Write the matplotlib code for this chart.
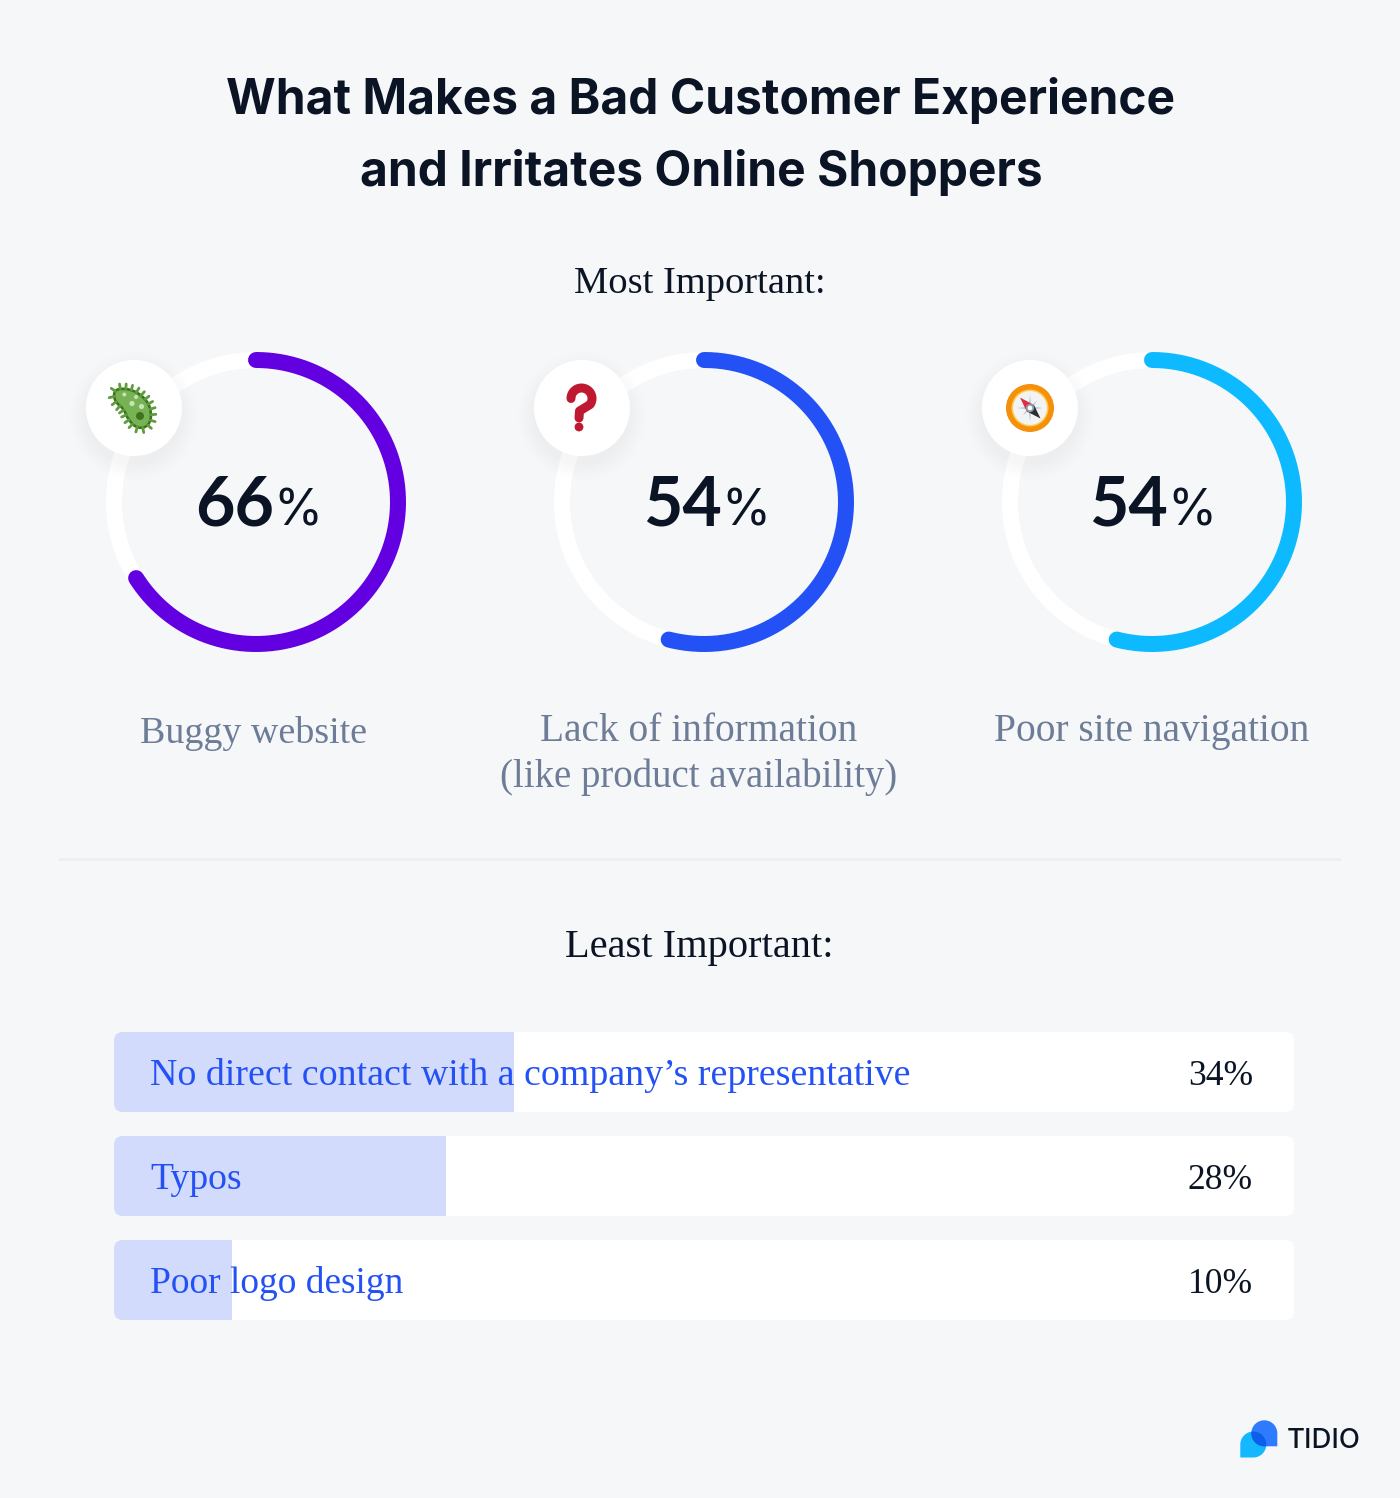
import numpy as np
import matplotlib
matplotlib.use("Agg")
import matplotlib.pyplot as plt
from matplotlib.patches import Circle, FancyBboxPatch, PathPatch, Polygon
from matplotlib.path import Path

# ---------- data ----------
title_lines = ["What Makes a Bad Customer Experience", "and Irritates Online Shoppers"]
most_heading = "Most Important:"
least_heading = "Least Important:"
donut_values = [66, 54, 54]
donut_labels = [["Buggy website"], ["Lack of information", "(like product availability)"], ["Poor site navigation"]]
bar_labels = ["No direct contact with a company\u2019s representative", "Typos", "Poor logo design"]
bar_values = [34, 28, 10]
bar_lengths = [33.9, 28.1, 10]

# ---------- style ----------
W, H = 1400, 1498
BG = "#F6F7F9"; INK = "#0B1424"; GREY = "#6D7C97"; BLUE = "#2351F5"; BARFILL = "#D2DBFC"
donut_colors = ["#6200E2", "#2351F5", "#0DB9FF"]
donut_cx = [256, 704, 1152]
donut_label_cx = [254, 699, 1152]
donut_label_y = [743, 741, 741]
donut_label_sizes = [[27.4], [28.4, 28.0], [28.4]]
bar_label_sizes = [27.3, 27.2, 26.9]
badge_cx = [134, 582, 1030]
SANS = "Inter"; SERIF = "Liberation Serif"
px = 72 / 100

fig = plt.figure(figsize=(W / 100, H / 100), dpi=100, facecolor=BG)
ax = fig.add_axes([0, 0, 1, 1], zorder=1)
ax.set_xlim(0, W); ax.set_ylim(H, 0); ax.axis("off")

for s, y in zip(title_lines, [114, 186]):
    ax.text(701, y, s, ha="center", va="baseline", family=SANS, weight="bold", fontsize=34.5, color=INK)
ax.text(700, 293, most_heading, ha="center", va="baseline", family=SERIF, fontsize=27.7, color=INK)
ax.text(699, 957, least_heading, ha="center", va="baseline", family=SERIF, fontsize=29.2, color=INK)
ax.plot([58, 1341], [858.5, 858.5], color="#EDEFF2", lw=3 * px, solid_capstyle="butt")

# ---------- donuts ----------
R = 150; CY = 502
for v, c, cx in zip(donut_values, donut_colors, donut_cx):
    pa = fig.add_axes([(cx - R) / W, 1 - (CY + R) / H, 2 * R / W, 2 * R / H], projection="polar", zorder=2)
    pa.set_theta_zero_location("N"); pa.set_theta_direction(-1)
    pa.set_rlim(0, R); pa.axis("off"); pa.patch.set_visible(False)
    t = np.linspace(0, 2 * np.pi, 361)
    pa.plot(t, np.full_like(t, R - 8), color="white", lw=16 * px, clip_on=False)
    t = np.linspace(0, 2 * np.pi * v / 100, 300)
    pa.plot(t, np.full_like(t, R - 8), color=c, lw=16 * px, solid_capstyle="round", clip_on=False)

for v, sh in zip(donut_values, [274, 722, 1168]):
    ax.text(sh, 525, str(v), ha="right", va="baseline", family="Lato", weight="bold", fontsize=49, color=INK, zorder=6)
    ax.text(sh - 1, 525, "%", ha="left", va="baseline", family=SANS, fontsize=36, color=INK, zorder=6)

for lines, sizes, cx, y in zip(donut_labels, donut_label_sizes, donut_label_cx, donut_label_y):
    for i, (line, fs) in enumerate(zip(lines, sizes)):
        ax.text(cx, y + 46 * i, line, ha="center", va="baseline", family=SERIF, fontsize=fs, color=GREY)

# ---------- bars ----------
TOP, BOT, L, Rt = 1032, 1320, 114, 1294
ba = fig.add_axes([L / W, 1 - BOT / H, (Rt - L) / W, (BOT - TOP) / H], zorder=2)
pitch = 104; bh = 80 / pitch
ba.set_xlim(0, 100); ba.set_ylim(2 + bh / 2, -bh / 2); ba.axis("off")
ys = np.arange(len(bar_values))
tracks = ba.barh(ys, [100] * len(ys), height=bh, color="white", linewidth=0)
fills = ba.barh(ys, bar_lengths, height=bh, color=BARFILL, linewidth=0)
for i, (tr, fl) in enumerate(zip(tracks, fills)):
    top = TOP + i * pitch
    clip = FancyBboxPatch((L, top), Rt - L, 80, boxstyle="round,pad=0,rounding_size=9",
                          transform=ax.transData, fc="none", ec="none")
    ax.add_patch(clip)
    tr.set_clip_path(clip); fl.set_clip_path(clip)
for y, s, v, fs in zip(ys, bar_labels, bar_values, bar_label_sizes):
    ba.text(36 / 11.8, y + 13 / pitch, s, ha="left", va="baseline", family=SERIF, fontsize=fs, color=BLUE)
    ba.text((1253 - L) / 11.8, y + 13 / pitch, f"{v}%", ha="right", va="baseline", family=SERIF, fontsize=25.6, color=INK)

# ---------- overlay: badges, icons, logo ----------
ov = fig.add_axes([0, 0, 1, 1], zorder=5)
ov.set_xlim(0, W); ov.set_ylim(H, 0); ov.axis("off"); ov.patch.set_visible(False)
BY = 408
for bx in badge_cx:
    for r in np.arange(64, 47, -2):
        ov.add_patch(Circle((bx, BY + 8), r, fc="#4A5A85", ec="none", alpha=0.0035))
    ov.add_patch(Circle((bx, BY), 48, fc="white", ec="none"))

def smooth_closed(pts):
    pts = np.asarray(pts, float)
    mids = (pts + np.roll(pts, -1, axis=0)) / 2
    verts = [mids[-1]]; codes = [Path.MOVETO]
    for p, m in zip(pts, mids):
        verts += [p, m]; codes += [Path.CURVE3, Path.CURVE3]
    return Path(verts, codes)

# bug
body = [(113, 394), (118, 388), (134, 390), (147, 400), (152, 413), (149, 426),
        (138, 429), (128, 420), (124, 409), (116, 403)]
bp = smooth_closed(body)
outline = bp.to_polygons(closed_only=False)[0]
seg = np.diff(outline, axis=0); sl = np.hypot(*seg.T); cum = np.r_[0, np.cumsum(sl)]
centre = np.array([133, 408])
for d in np.arange(2, cum[-1], 5.6):
    i = np.searchsorted(cum, d) - 1
    p = outline[i] + seg[i] * (d - cum[i]) / max(sl[i], 1e-6)
    n = np.array([seg[i][1], -seg[i][0]]) / max(sl[i], 1e-6)
    if np.dot(n, p - centre) < 0:
        n = -n
    q = p + n * 5
    ov.plot([p[0], q[0]], [p[1], q[1]], color="#5C9E3C", lw=2.8 * px, solid_capstyle="round")
ov.add_patch(PathPatch(bp, fc="#77B255", ec="#3E721D", lw=2.6 * px))
for (x, y, r) in [(124.3, 394.5, 2), (136, 397, 2), (132, 403.5, 2.6), (141.5, 406.5, 2.6)]:
    ov.add_patch(Circle((x, y), r, fc="#C6E5B3", ec="none"))
ov.add_patch(Circle((140, 416), 4, fc="#3E721D", ec="none"))

# question mark
ang = np.radians(np.linspace(180, -35, 40))
qx = list(581.5 + 10.5 * np.cos(ang)) + [579.5, 579]
qy = list(398.5 - 10.5 * np.sin(ang)) + [411, 418]
ov.plot(qx, qy, color="#BE1931", lw=9 * px, solid_capstyle="round", solid_joinstyle="round")
ov.add_patch(Circle((579, 427), 4.4, fc="#BE1931", ec="none"))

# compass
cx0, cy0 = 1030, 408
ov.add_patch(Circle((cx0, cy0), 24, fc="#F4900C", ec="none"))
ov.add_patch(Circle((cx0, cy0), 18.5, fc="#FFCC4D", ec="none"))
ov.add_patch(Circle((cx0, cy0), 17, fc="#F1F3F5", ec="none"))
star = []
for k in range(16):
    a = k * np.pi / 8
    r = 13 if k % 4 == 0 else (10 if k % 2 == 0 else 2.6)
    star.append((cx0 + r * np.cos(a), cy0 + r * np.sin(a)))
ov.add_patch(Polygon(star, fc="#AEBBC6", ec="none"))
ov.add_patch(Polygon([(1020, 397.5), (1033, 404.5), (1026.5, 411)], fc="#DD2E44", ec="none"))
ov.add_patch(Polygon([(1040.5, 418.5), (1027, 411.5), (1034, 405)], fc="#292F33", ec="none"))
ov.add_patch(Circle((cx0, cy0), 4.2, fc="#8899A6", ec="none"))
ov.add_patch(Circle((cx0, cy0), 2.4, fc="white", ec="none"))

# logo
def tear(cx, cy, r, corner):
    s = 1 if corner == "br" else -1
    k = 0.5523 * r
    v = [(cx + s * r, cy + r), (cx, cy + r),
         (cx - s * k, cy + r), (cx - s * r, cy + k), (cx - s * r, cy),
         (cx - s * r, cy - k), (cx - s * k, cy - r), (cx, cy - r),
         (cx + s * k, cy - r), (cx + s * r, cy - k), (cx + s * r, cy),
         (cx + s * r, cy + r)]
    c = [Path.MOVETO, Path.LINETO] + [Path.CURVE4] * 9 + [Path.CLOSEPOLY]
    return Path(v, c)

ov.add_patch(PathPatch(tear(1253.3, 1444.5, 13, "bl"), fc="#14B8FF", ec="none"))
ov.add_patch(PathPatch(tear(1264.3, 1433.3, 13, "br"), fc="#2E7BFF", ec="none"))
over = PathPatch(tear(1264.3, 1433.3, 13, "br"), fc="#0D5FEA", ec="none")
ov.add_patch(over)
over.set_clip_path(PathPatch(tear(1253.3, 1444.5, 13, "bl"), transform=ov.transData))
ov.text(1287, 1447.5, "TIDIO", ha="left", va="baseline", family="Inter", weight="medium", fontsize=19.8, color=INK)

fig.savefig("out.png", dpi=100, facecolor=BG)
